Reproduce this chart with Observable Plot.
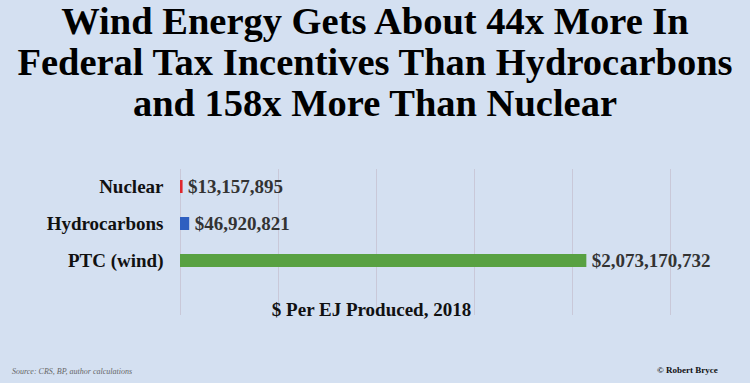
<!DOCTYPE html>
<html>
<head>
<meta charset="utf-8">
<script src="https://cdn.jsdelivr.net/npm/d3@7"></script>
<script src="https://cdn.jsdelivr.net/npm/@observablehq/plot@0.6"></script>
<style>
  html, body { margin: 0; padding: 0; }
  body { width: 750px; height: 383px; background: #d4e0f1; position: relative; overflow: hidden; font-family: "Liberation Serif", "Times New Roman", serif; }
  #title { position: absolute; left: 0; top: 1px; width: 750px; text-align: center; font-weight: bold; font-size: 38.5px; line-height: 41px; color: #000; white-space: nowrap; }
  #chart { position: absolute; left: 0; top: 150px; }
  #source { position: absolute; left: 12px; top: 367px; font-style: italic; font-size: 8px; line-height: 10px; color: #666; }
  #credit { position: absolute; left: 657px; top: 364px; font-weight: bold; font-size: 9px; line-height: 12px; color: #111; }
</style>
</head>
<body>
<div id="title">Wind Energy Gets About 44x More In<br>Federal Tax Incentives Than Hydrocarbons<br>and 158x More Than Nuclear</div>
<div id="chart"></div>
<div id="source">Source: CRS, BP, author calculations</div>
<div id="credit">© Robert Bryce</div>
<script>
const categories = ["Nuclear", "Hydrocarbons", "PTC (wind)"];
const values = [13157895, 46920821, 2073170732];
const colors = ["#e0262c", "#2f5fc0", "#58a142"];
const gridTicks = [0, 5e8, 1e9, 1.5e9, 2e9, 2.5e9];
const axisLabel = "$ Per EJ Produced, 2018";

const data = categories.map((c, i) => ({category: c, value: values[i], color: colors[i]}));
const fmt = d3.format("$,");

const chart = Plot.plot({
  width: 750,
  height: 233,
  marginLeft: 180,
  marginRight: 80,
  marginTop: 19,
  marginBottom: 68,
  style: {background: "transparent", fontFamily: "'Liberation Serif', 'Times New Roman', serif", overflow: "visible"},
  x: {domain: [0, 2.5e9], axis: null},
  y: {domain: categories, paddingInner: 0.6486, paddingOuter: 0.797, align: 0.178, label: null},
  marks: [
    Plot.ruleX(gridTicks, {stroke: "#c9c8d8", strokeWidth: 1}),
    Plot.axisY({tickSize: 0, tickPadding: 17, fontSize: 19, fontWeight: "bold", fill: "#111", label: null}),
    Plot.barX(data, {x: "value", y: "category", fill: "color"}),
    Plot.text(data, {x: "value", y: "category", text: d => fmt(d.value), textAnchor: "start", dx: 5, fontSize: 19, fontWeight: "bold", fill: "#333"}),
    Plot.text([axisLabel], {frameAnchor: "bottom", dx: -54, dy: 0, fontSize: 19, fontWeight: "bold", fill: "#111"})
  ]
});
document.getElementById("chart").appendChild(chart);
</script>
</body>
</html>
